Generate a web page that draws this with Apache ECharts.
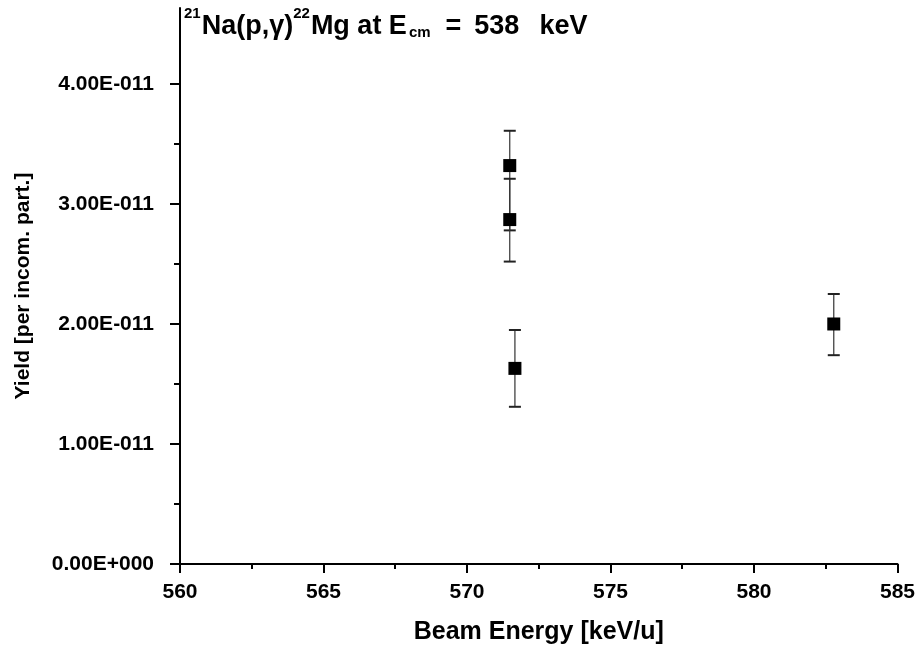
<!DOCTYPE html>
<html>
<head>
<meta charset="utf-8">
<script src="https://cdn.jsdelivr.net/npm/echarts@6/dist/echarts.min.js"></script>
<style>
  html, body { margin: 0; padding: 0; background: #fff; }
  #chart { width: 918px; height: 652px; }
</style>
</head>
<body>
<div id="chart"></div>
<script>
// beam energy [keV/u] and yield per incoming particle
const energy = [571.49, 571.49, 571.67, 582.78];
const yieldVals = [3.32e-11, 2.87e-11, 1.63e-11, 2.00e-11];
const errLow = [2.78e-11, 2.52e-11, 1.31e-11, 1.74e-11];
const errHigh = [3.61e-11, 3.21e-11, 1.95e-11, 2.25e-11];

const yMajor = [0, 1e-11, 2e-11, 3e-11, 4e-11];
const yMinor = [0.5e-11, 1.5e-11, 2.5e-11, 3.5e-11];

const FONT = '"Liberation Sans", Arial, sans-serif';

function fmtE(v) {
  if (Math.abs(v) < 1e-30) return '0.00E+000';
  const e = Math.floor(Math.log10(Math.abs(v)) + 1e-9);
  const m = v / Math.pow(10, e);
  return m.toFixed(2) + 'E' + (e < 0 ? '-' : '+') + String(Math.abs(e)).padStart(3, '0');
}

const points = energy.map((x, i) => [x, yieldVals[i]]);
const bars = energy.map((x, i) => [x, errLow[i], errHigh[i]]);

const yMax = 4.633e-11;

const main = { fontFamily: FONT, fontSize: 27, fontWeight: 'bold', color: '#000', lineHeight: 40, verticalAlign: 'bottom' };

const option = {
  animation: false,
  backgroundColor: '#fff',
  title: {
    left: 184,
    top: 0,
    padding: 0,
    text: '{sup|21}{m|Na(p,γ)}{sup|22}{m|Mg at E}{sub|cm}{m|=}{n1|538}{n2|keV}',
    textStyle: {
      rich: {
        m: main,
        n1: Object.assign({}, main, { padding: [0, 0, 0, 13] }),
        n2: Object.assign({}, main, { padding: [0, 0, 0, 20] }),
        sup: { fontFamily: FONT, fontSize: 15, fontWeight: 'bold', color: '#000', lineHeight: 40, verticalAlign: 'top', padding: [6, 1, 0, 0] },
        sub: { fontFamily: FONT, fontSize: 15, fontWeight: 'bold', color: '#000', lineHeight: 40, verticalAlign: 'bottom', padding: [0, 15, 0, 2] }
      }
    }
  },
  grid: { left: 180, right: 19, top: 8, bottom: 88 },
  xAxis: {
    type: 'value',
    min: 560,
    max: 585,
    interval: 5,
    name: 'Beam Energy [keV/u]',
    nameLocation: 'middle',
    nameGap: 56,
    nameTextStyle: { fontFamily: FONT, fontSize: 25, fontWeight: 'bold', color: '#000' },
    axisLine: { lineStyle: { color: '#000', width: 2 } },
    axisTick: { inside: false, length: 9, lineStyle: { color: '#000', width: 2 } },
    minorTick: { show: true, splitNumber: 2, length: 5, lineStyle: { color: '#000', width: 2 } },
    axisLabel: { margin: 18, fontFamily: FONT, fontSize: 21, fontWeight: 'bold', color: '#000' },
    splitLine: { show: false }
  },
  yAxis: [
    {
      type: 'value',
      min: 0,
      max: yMax,
      name: 'Yield [per incom. part.]',
      nameLocation: 'middle',
      nameGap: 146,
      nameTextStyle: { fontFamily: FONT, fontSize: 21, fontWeight: 'bold', color: '#000' },
      axisLine: { lineStyle: { color: '#000', width: 2 } },
      axisTick: { customValues: yMajor, length: 10, lineStyle: { color: '#000', width: 2 } },
      axisLabel: {
        customValues: yMajor,
        margin: 26,
        fontFamily: FONT, fontSize: 21, fontWeight: 'bold', color: '#000',
        formatter: (v) => fmtE(v)
      },
      splitLine: { show: false }
    },
    {
      type: 'value',
      min: 0,
      max: yMax,
      position: 'left',
      axisLine: { show: false },
      axisTick: { customValues: yMinor, length: 6, lineStyle: { color: '#000', width: 2 } },
      axisLabel: { show: false },
      splitLine: { show: false }
    }
  ],
  series: [
    {
      type: 'custom',
      data: bars,
      z: 1,
      renderItem: (params, api) => {
        const lo = api.coord([api.value(0), api.value(1)]);
        const hi = api.coord([api.value(0), api.value(2)]);
        const w = 6;
        const style = { stroke: '#333', lineWidth: 1.2 };
        return {
          type: 'group',
          children: [
            { type: 'line', shape: { x1: lo[0], y1: lo[1], x2: hi[0], y2: hi[1] }, style },
            { type: 'line', shape: { x1: lo[0] - w, y1: lo[1], x2: lo[0] + w, y2: lo[1] }, style: { stroke: '#222', lineWidth: 2 } },
            { type: 'line', shape: { x1: hi[0] - w, y1: hi[1], x2: hi[0] + w, y2: hi[1] }, style: { stroke: '#222', lineWidth: 2 } }
          ]
        };
      }
    },
    {
      type: 'scatter',
      data: points,
      z: 2,
      symbol: 'rect',
      symbolSize: 13,
      itemStyle: { color: '#000', opacity: 1 }
    }
  ]
};

const chart = echarts.init(document.getElementById('chart'));
chart.setOption(option);
window.addEventListener('resize', () => chart.resize());
</script>
</body>
</html>
